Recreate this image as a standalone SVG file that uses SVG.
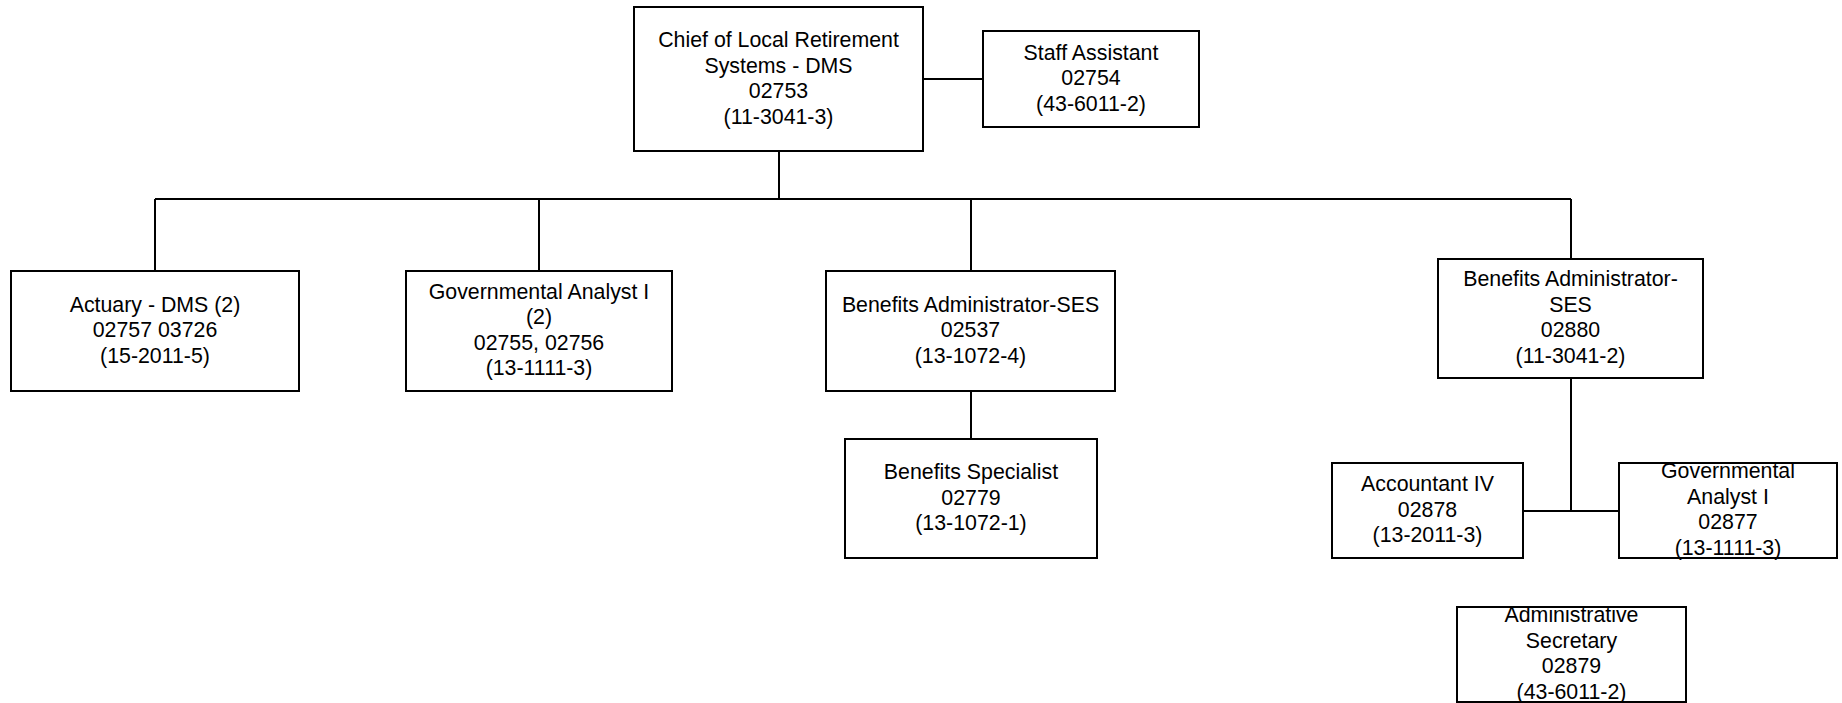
<svg xmlns="http://www.w3.org/2000/svg" width="1842" height="703" viewBox="0 0 1842 703">
  <style>
    .box { fill: #ffffff; stroke: #000000; stroke-width: 2; }
    .wire { fill: none; stroke: #000000; stroke-width: 2; }
    text { font-family: "Liberation Sans", Arial, sans-serif; font-size: 21.33px; fill: #000000; text-anchor: middle; }
  </style>
  <rect width="1842" height="703" fill="#ffffff"/>

  <!-- reporting lines -->
  <g id="connectors">
    <path class="wire" d="M923 79 H983"/>
    <path class="wire" d="M779 151 V199"/>
    <path class="wire" d="M155 199 H1571"/>
    <path class="wire" d="M155 199 V271"/>
    <path class="wire" d="M539 199 V271"/>
    <path class="wire" d="M971 199 V271"/>
    <path class="wire" d="M1571 199 V259"/>
    <path class="wire" d="M971 391 V439"/>
    <path class="wire" d="M1571 378 V511"/>
    <path class="wire" d="M1523 511 H1619"/>
  </g>

  <g id="chief">
    <rect class="box" x="634" y="7" width="289" height="144"/>
    <text x="778.5" y="47">Chief of Local Retirement</text>
    <text x="778.5" y="72.5">Systems - DMS</text>
    <text x="778.5" y="98">02753</text>
    <text x="778.5" y="123.5">(11-3041-3)</text>
  </g>

  <g id="staff-assistant">
    <rect class="box" x="983" y="31" width="216" height="96"/>
    <text x="1091" y="59.5">Staff Assistant</text>
    <text x="1091" y="85">02754</text>
    <text x="1091" y="110.5">(43-6011-2)</text>
  </g>

  <g id="actuary">
    <rect class="box" x="11" y="271" width="288" height="120"/>
    <text x="155" y="311.5">Actuary - DMS (2)</text>
    <text x="155" y="337">02757 03726</text>
    <text x="155" y="362.5">(15-2011-5)</text>
  </g>

  <g id="governmental-analyst-2">
    <rect class="box" x="406" y="271" width="266" height="120"/>
    <text x="539" y="298.75">Governmental Analyst I</text>
    <text x="539" y="324.25">(2)</text>
    <text x="539" y="349.75">02755, 02756</text>
    <text x="539" y="375.25">(13-1111-3)</text>
  </g>

  <g id="benefits-admin-02537">
    <rect class="box" x="826" y="271" width="289" height="120"/>
    <text x="970.5" y="311.5">Benefits Administrator-SES</text>
    <text x="970.5" y="337">02537</text>
    <text x="970.5" y="362.5">(13-1072-4)</text>
  </g>

  <g id="benefits-specialist">
    <rect class="box" x="845" y="439" width="252" height="119"/>
    <text x="971" y="479">Benefits Specialist</text>
    <text x="971" y="504.5">02779</text>
    <text x="971" y="530">(13-1072-1)</text>
  </g>

  <g id="benefits-admin-02880">
    <rect class="box" x="1438" y="259" width="265" height="119"/>
    <text x="1570.5" y="286.25">Benefits Administrator-</text>
    <text x="1570.5" y="311.75">SES</text>
    <text x="1570.5" y="337.25">02880</text>
    <text x="1570.5" y="362.75">(11-3041-2)</text>
  </g>

  <g id="accountant-iv">
    <rect class="box" x="1332" y="463" width="191" height="95"/>
    <text x="1427.5" y="491">Accountant IV</text>
    <text x="1427.5" y="516.5">02878</text>
    <text x="1427.5" y="542">(13-2011-3)</text>
  </g>

  <g id="governmental-analyst-02877">
    <rect class="box" x="1619" y="463" width="218" height="95"/>
    <text x="1728" y="478.25">Governmental</text>
    <text x="1728" y="503.75">Analyst I</text>
    <text x="1728" y="529.25">02877</text>
    <text x="1728" y="554.75">(13-1111-3)</text>
  </g>

  <g id="administrative-secretary">
    <rect class="box" x="1457" y="607" width="229" height="95"/>
    <text x="1571.5" y="622.25">Administrative</text>
    <text x="1571.5" y="647.75">Secretary</text>
    <text x="1571.5" y="673.25">02879</text>
    <text x="1571.5" y="698.75">(43-6011-2)</text>
  </g>
</svg>
